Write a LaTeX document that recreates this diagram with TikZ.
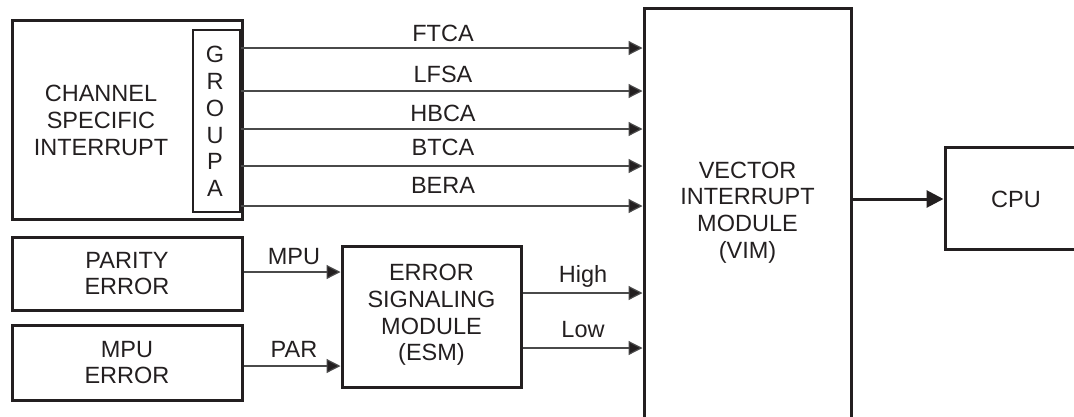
\documentclass[tikz,border=0pt]{standalone}
\usepackage{fontspec}
\setmainfont{Liberation Sans}
\usetikzlibrary{arrows.meta}
\definecolor{ink}{HTML}{231F20}
\definecolor{wire}{HTML}{4A4A4A}
\begin{document}
\begin{tikzpicture}[x=1pt,y=-1pt,
  font=\fontsize{23.5}{26.7}\selectfont,
  box/.style={draw=ink,line width=3pt,inner sep=0pt,align=center,text=ink},
  txt/.style={inner sep=0pt,align=center,text=ink},
  sig/.style={draw=wire,line width=1.2pt,-{Triangle[length=14pt,width=14pt,fill=ink]}},
  bus/.style={draw=ink,line width=3pt,-{Triangle[length=17pt,width=17pt,fill=ink]}},
  lbl/.style={inner sep=0pt,anchor=base,text=ink}]
\useasboundingbox (0,0) rectangle (1074,416);
% boxes
\node[box,minimum width=230pt,minimum height=199pt] (chan) at (127,119.5) {};
\node[txt] (chant) at (101,120.5) {CHANNEL\\SPECIFIC\\INTERRUPT};
\node[box,line width=2.2pt,minimum width=47pt,minimum height=182pt] (grp) at (216.5,121) {};
\node[txt,font=\fontsize{23.5}{26.7}\selectfont] (grpt) at (215,121.5) {G\\R\\O\\U\\P\\A};
\node[box,minimum width=230pt,minimum height=73pt] (par) at (127,273.5) {PARITY\\ERROR};
\node[box,minimum width=230pt,minimum height=75pt] (mpu) at (127,362.5) {MPU\\ERROR};
\node[box,minimum width=179pt,minimum height=141pt] (esm) at (431.5,316.5) {};
\node[txt] (esmt) at (431.5,315) {ERROR\\SIGNALING\\MODULE\\(ESM)};
\node[box,minimum width=207pt,minimum height=430pt] (vim) at (747.5,223) {};
\node[txt] (vimt) at (747.5,212.5) {VECTOR\\INTERRUPT\\MODULE\\(VIM)};
\node[box,minimum width=142pt,minimum height=102pt] (cpu) at (1016,198) {};
\node[txt] (cput) at (1016,199) {CPU};
% group A signals
\draw[sig] (grp.east |- 0,48) -- (vim.west |- 0,48);
\draw[sig] (grp.east |- 0,91) -- (vim.west |- 0,91);
\draw[sig] (grp.east |- 0,129) -- (vim.west |- 0,129);
\draw[sig] (grp.east |- 0,166) -- (vim.west |- 0,166);
\draw[sig] (grp.east |- 0,206) -- (vim.west |- 0,206);
\node[lbl] (l1) at (443,41) {FTCA};
\node[lbl] (l2) at (443,82) {LFSA};
\node[lbl] (l3) at (443,121) {HBCA};
\node[lbl] (l4) at (443,155.5) {BTCA};
\node[lbl] (l5) at (443,193) {BERA};
% error signals
\draw[sig] (par.east |- 0,272) -- (esm.west |- 0,272);
\draw[sig] (mpu.east |- 0,366) -- (esm.west |- 0,366);
\node[lbl] (l6) at (294,264) {MPU};
\node[lbl] (l7) at (294,357) {PAR};
\draw[sig] (esm.east |- 0,293) -- (vim.west |- 0,293);
\draw[sig] (esm.east |- 0,348) -- (vim.west |- 0,348);
\node[lbl] (l8) at (583,282) {High};
\node[lbl] (l9) at (583,337) {Low};
% VIM to CPU
\draw[bus] (vim.east |- 0,199) -- (cpu.west |- 0,199);
\end{tikzpicture}
\end{document}
